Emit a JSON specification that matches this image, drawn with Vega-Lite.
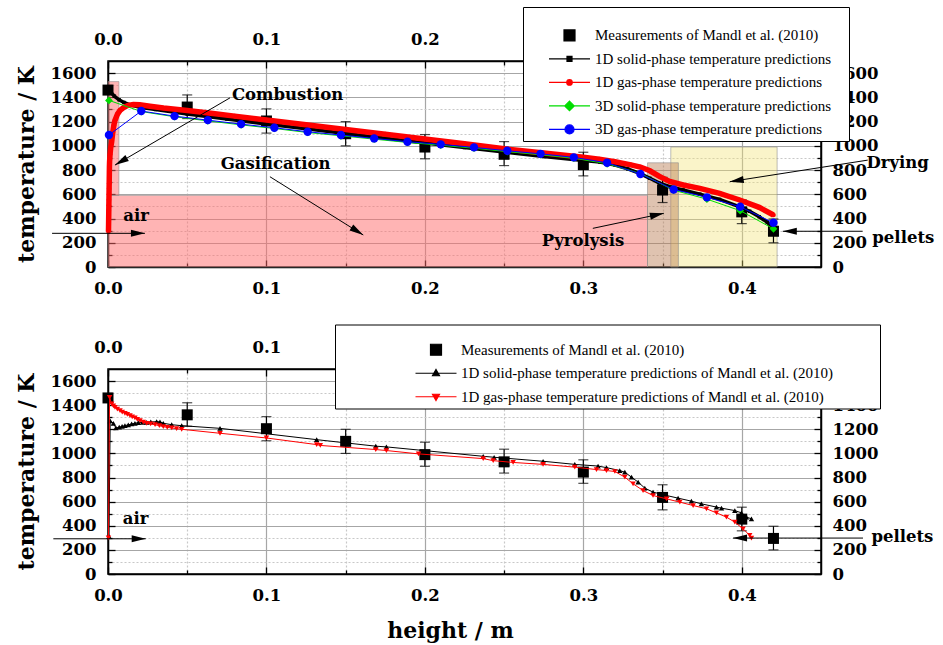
{
"$schema":"https://vega.github.io/schema/vega-lite/v6.json",
"padding":{"left":14,"top":5,"right":2,"bottom":0},
"background":"white",
"bounds":"flush",
"spacing":102,
"config":{
 "view":{"stroke":"black","strokeWidth":1.5},
 "axis":{"labelFont":"DejaVu Serif","labelFontSize":16.5,"labelFontWeight":"bold","labelColor":"black","titleFont":"DejaVu Serif","titleFontWeight":"bold","titleColor":"black","domainColor":"black","domainWidth":1.5,"tickColor":"black","tickWidth":1.3,"labelOverlap":false,"labelFlush":false,"labelBound":false}
},
"datasets":{
 "meas":[{"x":0,"y":1460},{"x":0.05,"y":1320,"lo":1225,"hi":1420},{"x":0.1,"y":1205,"lo":1105,"hi":1305},{"x":0.15,"y":1100,"lo":1000,"hi":1200},{"x":0.2,"y":990,"lo":893,"hi":1093},{"x":0.25,"y":930,"lo":837,"hi":1035},{"x":0.3,"y":845,"lo":752,"hi":947},{"x":0.35,"y":635,"lo":532,"hi":740},{"x":0.4,"y":455,"lo":358,"hi":554},{"x":0.42,"y":295,"lo":200,"hi":396}],
 "zones":[{"z":"comb","x":0,"x2":0.0069,"y":590,"y2":1530},{"z":"gas","x":0,"x2":0.3405,"y":0,"y2":590},{"z":"dry","x":0.3552,"x2":0.4223,"y":0,"y2":990},{"z":"pyr","x":0.3405,"x2":0.36,"y":0,"y2":860}],
 "s1d":[{"x":0,"y":1455},{"x":0.002,"y":1440},{"x":0.004,"y":1410},{"x":0.007,"y":1380},{"x":0.01,"y":1358},{"x":0.014,"y":1338},{"x":0.02,"y":1318},{"x":0.03,"y":1300},{"x":0.05,"y":1262},{"x":0.075,"y":1221},{"x":0.1,"y":1181},{"x":0.125,"y":1141},{"x":0.15,"y":1102},{"x":0.175,"y":1063},{"x":0.2,"y":1024},{"x":0.225,"y":986},{"x":0.25,"y":948},{"x":0.275,"y":912},{"x":0.3,"y":878},{"x":0.3104,"y":866},{"x":0.32,"y":842},{"x":0.328,"y":810},{"x":0.3356,"y":772},{"x":0.342,"y":732},{"x":0.348,"y":692},{"x":0.355,"y":660},{"x":0.363,"y":636},{"x":0.3735,"y":601},{"x":0.386,"y":558},{"x":0.3987,"y":497},{"x":0.405,"y":460},{"x":0.411,"y":415},{"x":0.416,"y":370},{"x":0.42,"y":320}],
 "g1d":[{"x":0.0003,"y":290},{"x":0.00035,"y":330},{"x":0.0004,"y":375},{"x":0.00045,"y":420},{"x":0.0005,"y":465},{"x":0.00055,"y":510},{"x":0.0006,"y":555},{"x":0.00065,"y":600},{"x":0.0007,"y":645},{"x":0.00075,"y":690},{"x":0.0008,"y":735},{"x":0.00085,"y":780},{"x":0.0009,"y":825},{"x":0.001,"y":870},{"x":0.0013,"y":930},{"x":0.0017,"y":985},{"x":0.0023,"y":1030},{"x":0.003,"y":1110},{"x":0.0037,"y":1170},{"x":0.0044,"y":1210},{"x":0.006,"y":1262},{"x":0.0076,"y":1292},{"x":0.01,"y":1318},{"x":0.0128,"y":1334},{"x":0.016,"y":1340},{"x":0.02,"y":1338},{"x":0.0265,"y":1326},{"x":0.035,"y":1312},{"x":0.05,"y":1292},{"x":0.065,"y":1268},{"x":0.08,"y":1245},{"x":0.1,"y":1213},{"x":0.125,"y":1174},{"x":0.15,"y":1135},{"x":0.175,"y":1096},{"x":0.2,"y":1056},{"x":0.225,"y":1017},{"x":0.25,"y":976},{"x":0.275,"y":940},{"x":0.3,"y":905},{"x":0.31,"y":890},{"x":0.32,"y":868},{"x":0.33,"y":843},{"x":0.336,"y":825},{"x":0.342,"y":794},{"x":0.348,"y":748},{"x":0.3545,"y":706},{"x":0.363,"y":677},{"x":0.3735,"y":649},{"x":0.386,"y":608},{"x":0.3987,"y":553},{"x":0.411,"y":492},{"x":0.42,"y":429}],
 "s3d":[{"x":0.0006,"y":1375},{"x":0.021,"y":1283},{"x":0.042,"y":1240},{"x":0.063,"y":1206},{"x":0.084,"y":1173},{"x":0.105,"y":1143},{"x":0.126,"y":1110},{"x":0.147,"y":1083},{"x":0.168,"y":1055},{"x":0.189,"y":1028},{"x":0.21,"y":1005},{"x":0.231,"y":980},{"x":0.252,"y":952},{"x":0.273,"y":927},{"x":0.294,"y":898},{"x":0.315,"y":852},{"x":0.336,"y":772},{"x":0.357,"y":634},{"x":0.378,"y":560},{"x":0.399,"y":465},{"x":0.42,"y":315}],
 "g3d":[{"x":0.0006,"y":1089},{"x":0.021,"y":1287},{"x":0.042,"y":1245},{"x":0.063,"y":1212},{"x":0.084,"y":1179},{"x":0.105,"y":1149},{"x":0.126,"y":1116},{"x":0.147,"y":1089},{"x":0.168,"y":1061},{"x":0.189,"y":1034},{"x":0.21,"y":1012},{"x":0.231,"y":987},{"x":0.252,"y":959},{"x":0.273,"y":934},{"x":0.294,"y":905},{"x":0.315,"y":860},{"x":0.336,"y":767},{"x":0.357,"y":640},{"x":0.378,"y":575},{"x":0.399,"y":497},{"x":0.42,"y":365}],
 "ms":[{"x":0.0006,"y":310},{"x":0.0014,"y":1270},{"x":0.0034,"y":1250},{"x":0.005,"y":1211},{"x":0.0071,"y":1217},{"x":0.0089,"y":1224},{"x":0.0107,"y":1230},{"x":0.0128,"y":1237},{"x":0.0149,"y":1244},{"x":0.017,"y":1250},{"x":0.0191,"y":1255},{"x":0.0218,"y":1257},{"x":0.0244,"y":1258},{"x":0.027,"y":1261},{"x":0.0307,"y":1263},{"x":0.0328,"y":1262},{"x":0.0349,"y":1250},{"x":0.0402,"y":1238},{"x":0.0465,"y":1230},{"x":0.0707,"y":1208},{"x":0.1317,"y":1114},{"x":0.169,"y":1060},{"x":0.1757,"y":1054},{"x":0.2368,"y":976},{"x":0.2437,"y":968},{"x":0.2746,"y":935},{"x":0.2946,"y":909},{"x":0.3093,"y":895},{"x":0.3146,"y":882},{"x":0.323,"y":858},{"x":0.3262,"y":844},{"x":0.3304,"y":803},{"x":0.3346,"y":762},{"x":0.3388,"y":712},{"x":0.344,"y":679},{"x":0.3525,"y":651},{"x":0.3598,"y":629},{"x":0.3682,"y":604},{"x":0.3745,"y":582},{"x":0.384,"y":555},{"x":0.3872,"y":546},{"x":0.3956,"y":526},{"x":0.3998,"y":507},{"x":0.4029,"y":472},{"x":0.4061,"y":458}],
 "mg":[{"x":0.0003,"y":300},{"x":0.001,"y":1465},{"x":0.0023,"y":1410},{"x":0.0034,"y":1395},{"x":0.0044,"y":1382},{"x":0.0059,"y":1368},{"x":0.0076,"y":1354},{"x":0.009,"y":1343},{"x":0.0107,"y":1333},{"x":0.0122,"y":1323},{"x":0.0139,"y":1313},{"x":0.0153,"y":1303},{"x":0.017,"y":1294},{"x":0.0185,"y":1283},{"x":0.0202,"y":1272},{"x":0.0223,"y":1260},{"x":0.0244,"y":1250},{"x":0.0269,"y":1244},{"x":0.0297,"y":1238},{"x":0.0324,"y":1230},{"x":0.0349,"y":1222},{"x":0.0374,"y":1216},{"x":0.0402,"y":1211},{"x":0.0433,"y":1205},{"x":0.0465,"y":1200},{"x":0.0707,"y":1167},{"x":0.1,"y":1128},{"x":0.1317,"y":1073},{"x":0.134,"y":1066},{"x":0.169,"y":1032},{"x":0.1757,"y":1024},{"x":0.196,"y":996},{"x":0.2368,"y":957},{"x":0.2431,"y":940},{"x":0.2557,"y":925},{"x":0.2746,"y":909},{"x":0.2946,"y":886},{"x":0.3083,"y":866},{"x":0.3146,"y":858},{"x":0.3199,"y":850},{"x":0.3262,"y":803},{"x":0.3314,"y":748},{"x":0.3377,"y":692},{"x":0.344,"y":651},{"x":0.3525,"y":623},{"x":0.3609,"y":596},{"x":0.3693,"y":568},{"x":0.3777,"y":541},{"x":0.384,"y":507},{"x":0.3903,"y":472},{"x":0.3956,"y":430},{"x":0.4008,"y":375},{"x":0.405,"y":320},{"x":0.4061,"y":298}],
 "arrT":[{"a":"comb","x":0.077,"y":1396,"x2":0.0044,"y2":841},{"a":"gas","x":0.1022,"y":745,"x2":0.1611,"y2":264},{"a":"air","x":-0.0353,"y":278,"x2":0.0233,"y2":278},{"a":"pyr","x":0.306,"y":319,"x2":0.3508,"y2":443},{"a":"dry","x":0.4795,"y":882,"x2":0.3924,"y2":704},{"a":"pel","x":0.4763,"y":295,"x2":0.4259,"y2":295}],
 "arrB":[{"a":"air","x":-0.0345,"y":292,"x2":0.0238,"y2":292},{"a":"pel","x":0.4765,"y":298,"x2":0.3945,"y2":298}],
 "txtT":[{"t":"Combustion","x":0.0782,"y":1419},{"t":"Gasification","x":0.0711,"y":847},{"t":"air","x":0.0097,"y":421},{"t":"Pyrolysis","x":0.2738,"y":217},{"t":"Drying","x":0.4787,"y":855},{"t":"pellets","x":0.4824,"y":242}],
 "txtB":[{"t":"air","x":0.0093,"y":458},{"t":"pellets","x":0.4818,"y":306}]
},
"resolve":{"scale":{"fill":"independent","stroke":"independent","shape":"independent","color":"independent"},"legend":{"fill":"independent","stroke":"independent","shape":"independent","color":"independent"}},
"vconcat":[
{
 "width":713,"height":206,
 "resolve":{"axis":{"x":"independent","y":"independent"}},
 "layer":[
  {"data":{"name":"zones"},"mark":{"type":"rect","stroke":"#8c8c8c","strokeWidth":0.8,"strokeOpacity":0.7},
   "encoding":{"x":{"field":"x","type":"quantitative","scale":{"domain":[0,0.45],"nice":false,"zero":false},"axis":null},"x2":{"field":"x2"},"y":{"field":"y","type":"quantitative","scale":{"domain":[0,1700],"nice":false,"zero":false},"axis":null},"y2":{"field":"y2"},
    "color":{"field":"z","type":"nominal","scale":{"domain":["comb","gas","dry","pyr"],"range":["rgba(255,105,105,0.5)","rgba(255,105,105,0.5)","rgba(241,226,112,0.38)","rgba(184,122,80,0.45)"]},"legend":null}}},
  {"data":{"name":"meas"},"transform":[{"filter":"isValid(datum.lo)"}],"mark":{"type":"rule","color":"black","strokeWidth":1.2},
   "encoding":{"x":{"field":"x","type":"quantitative","scale":{"domain":[0,0.45],"nice":false,"zero":false},
     "axis":{"orient":"top","values":[0,0.05,0.1,0.15,0.2,0.25,0.3,0.35,0.4],"format":".1f","labelExpr":"abs(datum.value*10 - round(datum.value*10)) < 0.001 ? datum.label : ''","title":null,"grid":false,"tickSize":{"condition":{"test":"abs(datum.value*10 - round(datum.value*10)) < 0.001","value":-7},"value":-4},"labelPadding":21,"zindex":1}},
    "y":{"field":"lo","type":"quantitative","scale":{"domain":[0,1700],"nice":false,"zero":false},
     "axis":{"orient":"right","values":[0,100,200,300,400,500,600,700,800,900,1000,1100,1200,1300,1400,1500,1600],"format":"d","labelExpr":"datum.value % 200 === 0 ? datum.label : ''","title":null,"grid":false,"tickSize":{"condition":{"test":"datum.value % 200 === 0","value":-7},"value":-4},"labelPadding":18,"zindex":1}},
    "y2":{"field":"hi"}}},
  {"data":{"name":"meas"},"transform":[{"filter":"isValid(datum.lo)"}],"mark":{"type":"tick","orient":"horizontal","color":"black","size":10,"thickness":1.2},
   "encoding":{"x":{"field":"x","type":"quantitative","scale":{"domain":[0,0.45],"nice":false,"zero":false},"axis":null},"y":{"field":"lo","type":"quantitative","scale":{"domain":[0,1700],"nice":false,"zero":false},"axis":null}}},
  {"data":{"name":"meas"},"transform":[{"filter":"isValid(datum.hi)"}],"mark":{"type":"tick","orient":"horizontal","color":"black","size":10,"thickness":1.2},
   "encoding":{"x":{"field":"x","type":"quantitative","scale":{"domain":[0,0.45],"nice":false,"zero":false},"axis":null},"y":{"field":"hi","type":"quantitative","scale":{"domain":[0,1700],"nice":false,"zero":false},"axis":null}}},
  {"data":{"name":"meas"},"mark":{"type":"point","shape":"square","filled":true,"color":"black","size":121,"opacity":1},
   "encoding":{"x":{"field":"x","type":"quantitative","scale":{"domain":[0,0.45],"nice":false,"zero":false},
     "axis":{"orient":"bottom","values":[0,0.05,0.1,0.15,0.2,0.25,0.3,0.35,0.4],"format":".1f","labelExpr":"abs(datum.value*10 - round(datum.value*10)) < 0.001 ? datum.label : ''","title":null,"grid":true,"gridColor":{"condition":{"test":"abs(datum.value*10 - round(datum.value*10)) < 0.001","value":"#a6a6a6"},"value":"#c8c8c8"},"gridDash":{"condition":{"test":"abs(datum.value*10 - round(datum.value*10)) < 0.001","value":[]},"value":[2,2]},"gridWidth":1.2,"tickSize":{"condition":{"test":"abs(datum.value*10 - round(datum.value*10)) < 0.001","value":-7},"value":-4},"labelPadding":20}},
    "y":{"field":"y","type":"quantitative","scale":{"domain":[0,1700],"nice":false,"zero":false},
     "axis":{"orient":"left","values":[0,100,200,300,400,500,600,700,800,900,1000,1100,1200,1300,1400,1500,1600],"format":"d","labelExpr":"datum.value % 200 === 0 ? datum.label : ''","title":"temperature / K","titleFontSize":22,"titlePadding":12,"grid":true,"gridColor":{"condition":{"test":"datum.value % 200 === 0","value":"#a6a6a6"},"value":"#c8c8c8"},"gridDash":{"condition":{"test":"datum.value % 200 === 0","value":[]},"value":[2,2]},"gridWidth":1.2,"tickSize":{"condition":{"test":"datum.value % 200 === 0","value":-7},"value":-4},"labelPadding":19}}}},
  {"data":{"name":"s1d"},"mark":{"type":"line","color":"black","strokeWidth":3.5,"point":{"filled":true,"shape":"square","size":12,"color":"black"}},
   "encoding":{"x":{"field":"x","type":"quantitative","scale":{"domain":[0,0.45],"nice":false,"zero":false},"axis":null},"y":{"field":"y","type":"quantitative","scale":{"domain":[0,1700],"nice":false,"zero":false},"axis":null}}},
  {"data":{"name":"g1d"},"mark":{"type":"line","color":"#ff0000","strokeWidth":5.5,"point":{"filled":true,"shape":"circle","size":22,"color":"#ff0000"}},
   "encoding":{"x":{"field":"x","type":"quantitative","scale":{"domain":[0,0.45],"nice":false,"zero":false},"axis":null},"y":{"field":"y","type":"quantitative","scale":{"domain":[0,1700],"nice":false,"zero":false},"axis":null}}},
  {"data":{"name":"s3d"},"mark":{"type":"line","color":"#00dd00","strokeWidth":1,"point":{"filled":true,"shape":"diamond","size":60,"color":"#00dd00"}},
   "encoding":{"x":{"field":"x","type":"quantitative","scale":{"domain":[0,0.45],"nice":false,"zero":false},"axis":null},"y":{"field":"y","type":"quantitative","scale":{"domain":[0,1700],"nice":false,"zero":false},"axis":null}}},
  {"data":{"name":"g3d"},"mark":{"type":"line","color":"#0000ff","strokeWidth":1,"point":{"filled":true,"shape":"circle","size":70,"color":"#0000ff"}},
   "encoding":{"x":{"field":"x","type":"quantitative","scale":{"domain":[0,0.45],"nice":false,"zero":false},"axis":null},"y":{"field":"y","type":"quantitative","scale":{"domain":[0,1700],"nice":false,"zero":false},"axis":null}}},
  {"data":{"name":"arrT"},"mark":{"type":"rule","color":"black","strokeWidth":1},
   "encoding":{"x":{"field":"x","type":"quantitative","scale":{"domain":[0,0.45],"nice":false,"zero":false},"axis":null},"y":{"field":"y","type":"quantitative","scale":{"domain":[0,1700],"nice":false,"zero":false},"axis":null},"x2":{"field":"x2"},"y2":{"field":"y2"}}},
  {"data":{"name":"arrT"},"transform":[{"filter":"datum.a === 'comb'"}],"mark":{"type":"point","shape":"M0,0L0.5,2L-0.5,2Z","filled":true,"color":"black","opacity":1,"size":196,"angle":240},
   "encoding":{"x":{"field":"x2","type":"quantitative","scale":{"domain":[0,0.45],"nice":false,"zero":false},"axis":null},"y":{"field":"y2","type":"quantitative","scale":{"domain":[0,1700],"nice":false,"zero":false},"axis":null}}},
  {"data":{"name":"arrT"},"transform":[{"filter":"datum.a === 'gas'"}],"mark":{"type":"point","shape":"M0,0L0.5,2L-0.5,2Z","filled":true,"color":"black","opacity":1,"size":196,"angle":122},
   "encoding":{"x":{"field":"x2","type":"quantitative","scale":{"domain":[0,0.45],"nice":false,"zero":false},"axis":null},"y":{"field":"y2","type":"quantitative","scale":{"domain":[0,1700],"nice":false,"zero":false},"axis":null}}},
  {"data":{"name":"arrT"},"transform":[{"filter":"datum.a === 'air'"}],"mark":{"type":"point","shape":"M0,0L0.5,2L-0.5,2Z","filled":true,"color":"black","opacity":1,"size":196,"angle":90},
   "encoding":{"x":{"field":"x2","type":"quantitative","scale":{"domain":[0,0.45],"nice":false,"zero":false},"axis":null},"y":{"field":"y2","type":"quantitative","scale":{"domain":[0,1700],"nice":false,"zero":false},"axis":null}}},
  {"data":{"name":"arrT"},"transform":[{"filter":"datum.a === 'pyr'"}],"mark":{"type":"point","shape":"M0,0L0.5,2L-0.5,2Z","filled":true,"color":"black","opacity":1,"size":196,"angle":78},
   "encoding":{"x":{"field":"x2","type":"quantitative","scale":{"domain":[0,0.45],"nice":false,"zero":false},"axis":null},"y":{"field":"y2","type":"quantitative","scale":{"domain":[0,1700],"nice":false,"zero":false},"axis":null}}},
  {"data":{"name":"arrT"},"transform":[{"filter":"datum.a === 'dry'"}],"mark":{"type":"point","shape":"M0,0L0.5,2L-0.5,2Z","filled":true,"color":"black","opacity":1,"size":196,"angle":261},
   "encoding":{"x":{"field":"x2","type":"quantitative","scale":{"domain":[0,0.45],"nice":false,"zero":false},"axis":null},"y":{"field":"y2","type":"quantitative","scale":{"domain":[0,1700],"nice":false,"zero":false},"axis":null}}},
  {"data":{"name":"arrT"},"transform":[{"filter":"datum.a === 'pel'"}],"mark":{"type":"point","shape":"M0,0L0.5,2L-0.5,2Z","filled":true,"color":"black","opacity":1,"size":196,"angle":270},
   "encoding":{"x":{"field":"x2","type":"quantitative","scale":{"domain":[0,0.45],"nice":false,"zero":false},"axis":null},"y":{"field":"y2","type":"quantitative","scale":{"domain":[0,1700],"nice":false,"zero":false},"axis":null}}},
  {"data":{"name":"txtT"},"mark":{"type":"text","align":"left","baseline":"middle","font":"DejaVu Serif","fontWeight":"bold","fontSize":16.5,"color":"black"},
   "encoding":{"x":{"field":"x","type":"quantitative","scale":{"domain":[0,0.45],"nice":false,"zero":false},"axis":null},"y":{"field":"y","type":"quantitative","scale":{"domain":[0,1700],"nice":false,"zero":false},"axis":null},"text":{"field":"t"}}},
  {"data":{"values":[{"s":"Measurements of Mandl et al. (2010)"},{"s":"1D solid-phase temperature predictions"},{"s":"1D gas-phase temperature predictions"},{"s":"3D solid-phase temperature predictions"},{"s":"3D gas-phase temperature predictions"}]},
   "mark":{"type":"point","filled":true,"opacity":0},
   "encoding":{
    "fill":{"field":"s","type":"nominal","scale":{"domain":["Measurements of Mandl et al. (2010)","1D solid-phase temperature predictions","1D gas-phase temperature predictions","3D solid-phase temperature predictions","3D gas-phase temperature predictions"],"range":["black","black","#ff0000","#00dd00","#0000ff"]},
     "legend":{"orient":"none","legendX":415,"legendY":-54,"zindex":5,"direction":"vertical","title":"nnnnnnnnnnnnnnnnnnnnnnnnnnnnnnnnnnnnnnnnnnnnn","titleColor":"white","titleFont":"Liberation Serif","titleFontWeight":"normal","titleFontSize":14.2,"titlePadding":3.75,"titleLimit":2000,"labelFont":"Liberation Serif","labelFontSize":15,"labelColor":"black","labelLimit":1000,"symbolSize":100,"symbolStrokeWidth":1.2,"symbolOpacity":1,"symbolOffset":36,"labelOffset":18,"rowPadding":7.5,"padding":3,"strokeColor":"black","fillColor":"white","cornerRadius":0}},
    "stroke":{"field":"s","type":"nominal","scale":{"domain":["Measurements of Mandl et al. (2010)","1D solid-phase temperature predictions","1D gas-phase temperature predictions","3D solid-phase temperature predictions","3D gas-phase temperature predictions"],"range":["black","black","#ff0000","#00dd00","#0000ff"]},
     "legend":{"orient":"none","legendX":415,"legendY":-54,"zindex":5,"direction":"vertical","title":"nnnnnnnnnnnnnnnnnnnnnnnnnnnnnnnnnnnnnnnnnnnnn","titleColor":"white","titleFont":"Liberation Serif","titleFontWeight":"normal","titleFontSize":14.2,"titlePadding":3.75,"titleLimit":2000,"labelFont":"Liberation Serif","labelFontSize":15,"labelColor":"black","labelLimit":1000,"symbolSize":100,"symbolStrokeWidth":1.2,"symbolOpacity":1,"symbolOffset":36,"labelOffset":18,"rowPadding":7.5,"padding":3,"strokeColor":"black","fillColor":"white","cornerRadius":0}},
    "shape":{"field":"s","type":"nominal","scale":{"domain":["Measurements of Mandl et al. (2010)","1D solid-phase temperature predictions","1D gas-phase temperature predictions","3D solid-phase temperature predictions","3D gas-phase temperature predictions"],"range":["M-1.1,-1.1H1.1V1.1H-1.1Z","M-4.1,0H4.1M-0.5,-0.5H0.5V0.5H-0.5Z","M-4.1,0H4.1M0.55,0A0.55,0.55,0,1,1,-0.55,0A0.55,0.55,0,1,1,0.55,0Z","M-4.1,0H4.1M0,-0.95L0.95,0L0,0.95L-0.95,0Z","M-4.1,0H4.1M0.9,0A0.9,0.9,0,1,1,-0.9,0A0.9,0.9,0,1,1,0.9,0Z"]},
     "legend":{"orient":"none","legendX":415,"legendY":-54,"zindex":5,"direction":"vertical","title":"nnnnnnnnnnnnnnnnnnnnnnnnnnnnnnnnnnnnnnnnnnnnn","titleColor":"white","titleFont":"Liberation Serif","titleFontWeight":"normal","titleFontSize":14.2,"titlePadding":3.75,"titleLimit":2000,"labelFont":"Liberation Serif","labelFontSize":15,"labelColor":"black","labelLimit":1000,"symbolSize":100,"symbolStrokeWidth":1.2,"symbolOpacity":1,"symbolOffset":36,"labelOffset":18,"rowPadding":7.5,"padding":3,"strokeColor":"black","fillColor":"white","cornerRadius":0}}}}
 ]
},
{
 "width":713,"height":205,
 "resolve":{"axis":{"x":"independent","y":"independent"}},
 "layer":[
  {"data":{"name":"meas"},"transform":[{"filter":"isValid(datum.lo)"}],"mark":{"type":"rule","color":"black","strokeWidth":1.2},
   "encoding":{"x":{"field":"x","type":"quantitative","scale":{"domain":[0,0.45],"nice":false,"zero":false},
     "axis":{"orient":"top","values":[0,0.05,0.1,0.15,0.2,0.25,0.3,0.35,0.4],"format":".1f","labelExpr":"abs(datum.value*10 - round(datum.value*10)) < 0.001 ? datum.label : ''","title":null,"grid":false,"tickSize":{"condition":{"test":"abs(datum.value*10 - round(datum.value*10)) < 0.001","value":-7},"value":-4},"labelPadding":21,"zindex":1}},
    "y":{"field":"lo","type":"quantitative","scale":{"domain":[0,1700],"nice":false,"zero":false},
     "axis":{"orient":"right","values":[0,100,200,300,400,500,600,700,800,900,1000,1100,1200,1300,1400,1500,1600],"format":"d","labelExpr":"datum.value % 200 === 0 ? datum.label : ''","title":null,"grid":false,"tickSize":{"condition":{"test":"datum.value % 200 === 0","value":-7},"value":-4},"labelPadding":18,"zindex":1}},
    "y2":{"field":"hi"}}},
  {"data":{"name":"meas"},"transform":[{"filter":"isValid(datum.lo)"}],"mark":{"type":"tick","orient":"horizontal","color":"black","size":10,"thickness":1.2},
   "encoding":{"x":{"field":"x","type":"quantitative","scale":{"domain":[0,0.45],"nice":false,"zero":false},"axis":null},"y":{"field":"lo","type":"quantitative","scale":{"domain":[0,1700],"nice":false,"zero":false},"axis":null}}},
  {"data":{"name":"meas"},"transform":[{"filter":"isValid(datum.hi)"}],"mark":{"type":"tick","orient":"horizontal","color":"black","size":10,"thickness":1.2},
   "encoding":{"x":{"field":"x","type":"quantitative","scale":{"domain":[0,0.45],"nice":false,"zero":false},"axis":null},"y":{"field":"hi","type":"quantitative","scale":{"domain":[0,1700],"nice":false,"zero":false},"axis":null}}},
  {"data":{"name":"meas"},"mark":{"type":"point","shape":"square","filled":true,"color":"black","size":121,"opacity":1},
   "encoding":{"x":{"field":"x","type":"quantitative","scale":{"domain":[0,0.45],"nice":false,"zero":false},
     "axis":{"orient":"bottom","values":[0,0.05,0.1,0.15,0.2,0.25,0.3,0.35,0.4],"format":".1f","labelExpr":"abs(datum.value*10 - round(datum.value*10)) < 0.001 ? datum.label : ''","title":"height / m","titleFontSize":22,"titlePadding":14,"titleX":342,"grid":true,"gridColor":{"condition":{"test":"abs(datum.value*10 - round(datum.value*10)) < 0.001","value":"#a6a6a6"},"value":"#c8c8c8"},"gridDash":{"condition":{"test":"abs(datum.value*10 - round(datum.value*10)) < 0.001","value":[]},"value":[2,2]},"gridWidth":1.2,"tickSize":{"condition":{"test":"abs(datum.value*10 - round(datum.value*10)) < 0.001","value":-7},"value":-4},"labelPadding":20}},
    "y":{"field":"y","type":"quantitative","scale":{"domain":[0,1700],"nice":false,"zero":false},
     "axis":{"orient":"left","values":[0,100,200,300,400,500,600,700,800,900,1000,1100,1200,1300,1400,1500,1600],"format":"d","labelExpr":"datum.value % 200 === 0 ? datum.label : ''","title":"temperature / K","titleFontSize":22,"titlePadding":12,"grid":true,"gridColor":{"condition":{"test":"datum.value % 200 === 0","value":"#a6a6a6"},"value":"#c8c8c8"},"gridDash":{"condition":{"test":"datum.value % 200 === 0","value":[]},"value":[2,2]},"gridWidth":1.2,"tickSize":{"condition":{"test":"datum.value % 200 === 0","value":-7},"value":-4},"labelPadding":19}}}},
  {"data":{"name":"ms"},"mark":{"type":"line","color":"black","strokeWidth":1,"point":{"filled":true,"shape":"triangle-up","size":30,"color":"black"}},
   "encoding":{"x":{"field":"x","type":"quantitative","scale":{"domain":[0,0.45],"nice":false,"zero":false},"axis":null},"y":{"field":"y","type":"quantitative","scale":{"domain":[0,1700],"nice":false,"zero":false},"axis":null}}},
  {"data":{"name":"mg"},"mark":{"type":"line","color":"#ff0000","strokeWidth":1,"point":{"filled":true,"shape":"triangle-down","size":30,"color":"#ff0000"}},
   "encoding":{"x":{"field":"x","type":"quantitative","scale":{"domain":[0,0.45],"nice":false,"zero":false},"axis":null},"y":{"field":"y","type":"quantitative","scale":{"domain":[0,1700],"nice":false,"zero":false},"axis":null}}},
  {"data":{"name":"arrB"},"mark":{"type":"rule","color":"black","strokeWidth":1},
   "encoding":{"x":{"field":"x","type":"quantitative","scale":{"domain":[0,0.45],"nice":false,"zero":false},"axis":null},"y":{"field":"y","type":"quantitative","scale":{"domain":[0,1700],"nice":false,"zero":false},"axis":null},"x2":{"field":"x2"},"y2":{"field":"y2"}}},
  {"data":{"name":"arrB"},"transform":[{"filter":"datum.a === 'air'"}],"mark":{"type":"point","shape":"M0,0L0.5,2L-0.5,2Z","filled":true,"color":"black","opacity":1,"size":196,"angle":90},
   "encoding":{"x":{"field":"x2","type":"quantitative","scale":{"domain":[0,0.45],"nice":false,"zero":false},"axis":null},"y":{"field":"y2","type":"quantitative","scale":{"domain":[0,1700],"nice":false,"zero":false},"axis":null}}},
  {"data":{"name":"arrB"},"transform":[{"filter":"datum.a === 'pel'"}],"mark":{"type":"point","shape":"M0,0L0.5,2L-0.5,2Z","filled":true,"color":"black","opacity":1,"size":196,"angle":270},
   "encoding":{"x":{"field":"x2","type":"quantitative","scale":{"domain":[0,0.45],"nice":false,"zero":false},"axis":null},"y":{"field":"y2","type":"quantitative","scale":{"domain":[0,1700],"nice":false,"zero":false},"axis":null}}},
  {"data":{"name":"txtB"},"mark":{"type":"text","align":"left","baseline":"middle","font":"DejaVu Serif","fontWeight":"bold","fontSize":16.5,"color":"black"},
   "encoding":{"x":{"field":"x","type":"quantitative","scale":{"domain":[0,0.45],"nice":false,"zero":false},"axis":null},"y":{"field":"y","type":"quantitative","scale":{"domain":[0,1700],"nice":false,"zero":false},"axis":null},"text":{"field":"t"}}},
  {"data":{"values":[{"s":"Measurements of Mandl et al. (2010)"},{"s":"1D solid-phase temperature predictions of Mandl et al. (2010)"},{"s":"1D gas-phase temperature predictions of Mandl et al. (2010)"}]},
   "mark":{"type":"point","filled":true,"opacity":0},
   "encoding":{
    "fill":{"field":"s","type":"nominal","scale":{"domain":["Measurements of Mandl et al. (2010)","1D solid-phase temperature predictions of Mandl et al. (2010)","1D gas-phase temperature predictions of Mandl et al. (2010)"],"range":["black","black","#ff0000"]},
     "legend":{"orient":"none","legendX":227,"legendY":-44.5,"zindex":5,"direction":"vertical","title":"nnnnnnnnnnnnnnnnnnnnnnnnnnnnnnnnnnnnnnnnnnnnnnnnnnnnnnnnnnnnnnnnnnnnnnnnnnnnn","titleColor":"white","titleFont":"Liberation Serif","titleFontWeight":"normal","titleFontSize":14,"titlePadding":0.75,"titleLimit":2000,"labelFont":"Liberation Serif","labelFontSize":15,"labelColor":"black","labelLimit":1000,"symbolSize":100,"symbolStrokeWidth":1.2,"symbolOpacity":1,"symbolOffset":90.5,"labelOffset":17.5,"rowPadding":7.5,"padding":3,"strokeColor":"black","fillColor":"white","cornerRadius":0}},
    "stroke":{"field":"s","type":"nominal","scale":{"domain":["Measurements of Mandl et al. (2010)","1D solid-phase temperature predictions of Mandl et al. (2010)","1D gas-phase temperature predictions of Mandl et al. (2010)"],"range":["black","black","#ff0000"]},
     "legend":{"orient":"none","legendX":227,"legendY":-44.5,"zindex":5,"direction":"vertical","title":"nnnnnnnnnnnnnnnnnnnnnnnnnnnnnnnnnnnnnnnnnnnnnnnnnnnnnnnnnnnnnnnnnnnnnnnnnnnnn","titleColor":"white","titleFont":"Liberation Serif","titleFontWeight":"normal","titleFontSize":14,"titlePadding":0.75,"titleLimit":2000,"labelFont":"Liberation Serif","labelFontSize":15,"labelColor":"black","labelLimit":1000,"symbolSize":100,"symbolStrokeWidth":1.2,"symbolOpacity":1,"symbolOffset":90.5,"labelOffset":17.5,"rowPadding":7.5,"padding":3,"strokeColor":"black","fillColor":"white","cornerRadius":0}},
    "shape":{"field":"s","type":"nominal","scale":{"domain":["Measurements of Mandl et al. (2010)","1D solid-phase temperature predictions of Mandl et al. (2010)","1D gas-phase temperature predictions of Mandl et al. (2010)"],"range":["M-1.1,-1.1H1.1V1.1H-1.1Z","M-4.1,0H4.1M0,-0.75L0.7,0.5L-0.7,0.5Z","M-4.1,0H4.1M0,0.75L0.7,-0.5L-0.7,-0.5Z"]},
     "legend":{"orient":"none","legendX":227,"legendY":-44.5,"zindex":5,"direction":"vertical","title":"nnnnnnnnnnnnnnnnnnnnnnnnnnnnnnnnnnnnnnnnnnnnnnnnnnnnnnnnnnnnnnnnnnnnnnnnnnnnn","titleColor":"white","titleFont":"Liberation Serif","titleFontWeight":"normal","titleFontSize":14,"titlePadding":0.75,"titleLimit":2000,"labelFont":"Liberation Serif","labelFontSize":15,"labelColor":"black","labelLimit":1000,"symbolSize":100,"symbolStrokeWidth":1.2,"symbolOpacity":1,"symbolOffset":90.5,"labelOffset":17.5,"rowPadding":7.5,"padding":3,"strokeColor":"black","fillColor":"white","cornerRadius":0}}}}
 ]
}
]
}
